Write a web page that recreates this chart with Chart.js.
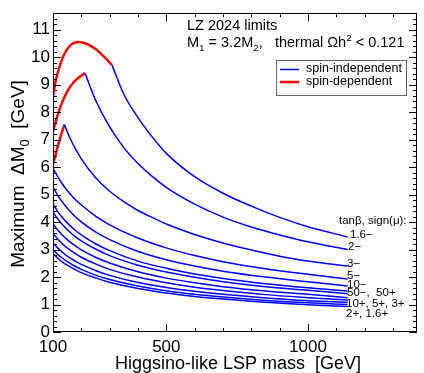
<!DOCTYPE html>
<html>
<head>
<meta charset="utf-8">
<script src="https://cdn.jsdelivr.net/npm/chart.js@4.4.1/dist/chart.umd.min.js"></script>
<style>
html, body { margin: 0; padding: 0; background: #fff; }
</style>
</head>
<body>
<canvas id="myChartLZ" width="424" height="373"></canvas>
<script>
// Higgsino-like LSP mass (GeV) where the lower curves were read
var massGrid = [100, 115, 130, 150, 175, 200, 250, 300, 400, 500, 600, 700, 850, 1000, 1140];

// lower curves (spin-independent only), max Delta M0 in GeV
var dm5minus  = [5.95, 5.68, 5.43, 5.15, 4.86, 4.62, 4.22, 3.90, 3.42, 3.06, 2.78, 2.56, 2.30, 2.10, 1.93];
var dm10minus = [5.28, 5.00, 4.77, 4.51, 4.23, 4.01, 3.64, 3.36, 2.93, 2.63, 2.40, 2.21, 2.00, 1.83, 1.67];
var dm50minus = [4.65, 4.41, 4.20, 3.97, 3.73, 3.53, 3.21, 2.96, 2.58, 2.32, 2.11, 1.95, 1.76, 1.61, 1.49];
var dm50plus  = [4.37, 4.14, 3.95, 3.73, 3.50, 3.32, 3.02, 2.78, 2.43, 2.18, 1.99, 1.83, 1.65, 1.52, 1.39];
var dm10plus  = [3.94, 3.73, 3.56, 3.36, 3.16, 2.99, 2.72, 2.51, 2.19, 1.96, 1.79, 1.65, 1.49, 1.37, 1.25];
var dm5plus   = [3.59, 3.40, 3.24, 3.06, 2.88, 2.72, 2.48, 2.28, 2.00, 1.79, 1.63, 1.51, 1.36, 1.25, 1.16];
var dm3plus   = [3.24, 3.07, 2.93, 2.76, 2.60, 2.46, 2.24, 2.06, 1.80, 1.62, 1.48, 1.37, 1.24, 1.14, 1.08];
var dm2plus   = [3.00, 2.84, 2.71, 2.56, 2.41, 2.28, 2.07, 1.91, 1.67, 1.50, 1.37, 1.27, 1.15, 1.06, 1.00];
var dm16plus  = [2.85, 2.70, 2.57, 2.43, 2.29, 2.16, 1.97, 1.81, 1.58, 1.42, 1.29, 1.20, 1.08, 0.99, 0.93];

// upper curves: spin-dependent part (red) then spin-independent part (blue)
var sd16minusMass = [100, 110, 120, 137, 160, 190, 220, 250, 280, 308];
var sd16minusVal  = [8.60, 9.15, 9.55, 10.05, 10.42, 10.55, 10.48, 10.30, 10.02, 9.72];
var si16minusMass = [308, 350, 400, 450, 500, 600, 700, 800, 900, 1000, 1140];
var si16minusVal  = [9.72, 8.65, 7.80, 7.10, 6.50, 5.65, 5.05, 4.58, 4.17, 3.83, 3.46];

var sd2minusMass = [100, 115, 130, 150, 170, 190, 213];
var sd2minusVal  = [7.30, 7.85, 8.30, 8.75, 9.05, 9.25, 9.42];
var si2minusMass = [213, 250, 300, 350, 400, 450, 500, 600, 700, 800, 900, 1000, 1140];
var si2minusVal  = [9.42, 8.44, 7.46, 6.71, 6.13, 5.66, 5.26, 4.65, 4.18, 3.82, 3.53, 3.28, 3.00];

var sd3minusMass = [100, 110, 120, 130, 140];
var sd3minusVal  = [6.10, 6.50, 6.88, 7.22, 7.55];
var si3minusMass = [140, 160, 200, 250, 300, 350, 400, 450, 500, 600, 700, 800, 900, 1000, 1140];
var si3minusVal  = [7.55, 7.05, 6.30, 5.62, 5.12, 4.74, 4.42, 4.17, 3.93, 3.55, 3.24, 2.98, 2.76, 2.58, 2.40];

var curveLabels = ['1.6\u2212', '2\u2212', '3\u2212', '5\u2212', '10\u2212', '50\u2212,  50+', '10+, 5+, 3+', '2+, 1.6+'];
var xTickValues = [100, 500, 1000];
var yTickValues = [0, 1, 2, 3, 4, 5, 6, 7, 8, 9, 10, 11];

var BLUE = '#0000ff';
var RED = '#ff0000';
var FONT = '"Liberation Sans", Arial, Helvetica, sans-serif';

function toPoints(xs, ys) {
    return xs.map(function (x, i) { return { x: x, y: ys[i] }; });
}

function lineSet(points, color, width) {
    return {
        data: points,
        borderColor: color,
        borderWidth: width,
        pointRadius: 0,
        fill: false,
        showLine: true,
        cubicInterpolationMode: 'monotone'
    };
}

// draws a string made of pieces with sub/superscripts, starting at x
function drawPieces(ctx, pieces, x, y, size) {
    pieces.forEach(function (p) {
        var s = size, dy = 0;
        if (p.sub) { s = size * 0.68; dy = size * 0.28; }
        if (p.sup) { s = size * 0.68; dy = -size * 0.42; }
        ctx.font = s + 'px ' + FONT;
        ctx.fillText(p.t, x, y + dy);
        x += ctx.measureText(p.t).width;
    });
    return x;
}

function piecesWidth(ctx, pieces, size) {
    var w = 0;
    pieces.forEach(function (p) {
        var s = (p.sub || p.sup) ? size * 0.68 : size;
        ctx.font = s + 'px ' + FONT;
        w += ctx.measureText(p.t).width;
    });
    return w;
}

var framePlugin = {
    id: 'frame',
    afterDraw: function (chart) {
        var ctx = chart.ctx;
        var a = chart.chartArea;
        var xs = chart.scales.x, ys = chart.scales.y;
        ctx.save();
        ctx.strokeStyle = '#000';
        ctx.lineWidth = 1;
        ctx.beginPath();
        ctx.rect(Math.round(a.left) + 0.5, Math.round(a.top) + 0.5,
            Math.round(a.right - a.left) - 1, Math.round(a.bottom - a.top) - 1);
        ctx.stroke();

        // inward ticks on all four sides
        ctx.beginPath();
        for (var m = 100; m <= 1300; m += 100) {
            var px = Math.round(xs.getPixelForValue(m)) + 0.5;
            var len = (m % 500 === 0) ? 8 : 4;
            ctx.moveTo(px, a.bottom); ctx.lineTo(px, a.bottom - len);
            ctx.moveTo(px, a.top); ctx.lineTo(px, a.top + len);
        }
        for (var i = 0; i <= 58; i++) {
            var py = Math.round(ys.getPixelForValue(i * 0.2)) + 0.5;
            var l2 = (i % 5 === 0) ? 8 : 4;
            ctx.moveTo(a.left, py); ctx.lineTo(a.left + l2, py);
            ctx.moveTo(a.right, py); ctx.lineTo(a.right - l2, py);
        }
        ctx.stroke();

        ctx.fillStyle = '#000';
        ctx.textBaseline = 'alphabetic';
        ctx.textAlign = 'left';

        // header text
        ctx.font = '14.5px ' + FONT;
        ctx.fillText('LZ 2024 limits', 187, 30);
        drawPieces(ctx, [
            { t: 'M' }, { t: '1', sub: true }, { t: ' = 3.2M' }, { t: '2', sub: true },
            { t: ',   thermal \u03A9h' }, { t: '2', sup: true }, { t: ' < 0.121' }
        ], 187, 47, 14.5);

        // legend box
        ctx.strokeStyle = '#666';
        ctx.strokeRect(276.5, 60.5, 130, 35);
        ctx.lineWidth = 1.5;
        ctx.strokeStyle = BLUE;
        ctx.beginPath(); ctx.moveTo(280, 69.5); ctx.lineTo(299, 69.5); ctx.stroke();
        ctx.lineWidth = 2.5;
        ctx.strokeStyle = RED;
        ctx.beginPath(); ctx.moveTo(280, 82); ctx.lineTo(299, 82); ctx.stroke();
        ctx.font = '12.5px ' + FONT;
        ctx.textBaseline = 'middle';
        ctx.fillText('spin-independent', 306, 69);
        ctx.fillText('spin-dependent', 306, 82);

        // curve labels at the right end
        ctx.font = '11.5px ' + FONT;
        ctx.fillText('tan\u03B2, sign(\u03BC):', 339, 221);
        var lx = [350, 348, 347, 347, 347, 347, 346, 346];
        var ly = [234.5, 247, 263.5, 276, 285, 292.5, 303.5, 313.5];
        curveLabels.forEach(function (t, k) { ctx.fillText(t, lx[k], ly[k]); });

        // axis titles
        ctx.textBaseline = 'alphabetic';
        ctx.font = '18px ' + FONT;
        ctx.textAlign = 'center';
        ctx.fillText('Higgsino-like LSP mass  [GeV]', 238, 369);

        ctx.textAlign = 'left';
        var yt = [{ t: 'Maximum  \u0394M' }, { t: '0', sub: true }, { t: '  [GeV]' }];
        var w = piecesWidth(ctx, yt, 19);
        ctx.translate(24, 174);
        ctx.rotate(-Math.PI / 2);
        drawPieces(ctx, yt, -w / 2, 0, 19);
        ctx.restore();
    }
};

var datasets = [
    lineSet(toPoints(si16minusMass, si16minusVal), BLUE, 1.5),
    lineSet(toPoints(si2minusMass, si2minusVal), BLUE, 1.5),
    lineSet(toPoints(si3minusMass, si3minusVal), BLUE, 1.5),
    lineSet(toPoints(massGrid, dm5minus), BLUE, 1.5),
    lineSet(toPoints(massGrid, dm10minus), BLUE, 1.5),
    lineSet(toPoints(massGrid, dm50minus), BLUE, 1.5),
    lineSet(toPoints(massGrid, dm50plus), BLUE, 1.5),
    lineSet(toPoints(massGrid, dm10plus), BLUE, 1.5),
    lineSet(toPoints(massGrid, dm5plus), BLUE, 1.5),
    lineSet(toPoints(massGrid, dm3plus), BLUE, 1.5),
    lineSet(toPoints(massGrid, dm2plus), BLUE, 1.5),
    lineSet(toPoints(massGrid, dm16plus), BLUE, 1.5),
    lineSet(toPoints(sd16minusMass, sd16minusVal), RED, 2.5),
    lineSet(toPoints(sd2minusMass, sd2minusVal), RED, 2.5),
    lineSet(toPoints(sd3minusMass, sd3minusVal), RED, 2.5)
];

var ctx = document.getElementById('myChartLZ').getContext('2d');
var myChart = new Chart(ctx, {
    type: 'scatter',
    data: { datasets: datasets },
    options: {
        responsive: false,
        animation: false,
        layout: { padding: { top: 2, right: 7, left: 0, bottom: 0 } },
        plugins: {
            legend: { display: false },
            tooltip: { enabled: false }
        },
        scales: {
            x: {
                type: 'linear',
                min: 100,
                max: 1385,
                afterBuildTicks: function (scale) {
                    scale.ticks = xTickValues.map(function (v) { return { value: v }; });
                },
                afterFit: function (scale) { scale.height = 41; },
                grid: { display: false, drawTicks: false },
                border: { display: false },
                ticks: {
                    color: '#000',
                    padding: 5,
                    maxRotation: 0,
                    autoSkip: false,
                    font: { family: FONT, size: 17 },
                    callback: function (value) { return String(value); }
                }
            },
            y: {
                type: 'linear',
                min: 0,
                max: 11.6,
                afterBuildTicks: function (scale) {
                    scale.ticks = yTickValues.map(function (v) { return { value: v }; });
                },
                afterFit: function (scale) { scale.width = 53; },
                grid: { display: false, drawTicks: false },
                border: { display: false },
                ticks: {
                    color: '#000',
                    padding: 3,
                    autoSkip: false,
                    font: { family: FONT, size: 17 },
                    callback: function (value) { return String(value); }
                }
            }
        }
    },
    plugins: [framePlugin]
});
</script>
</body>
</html>
